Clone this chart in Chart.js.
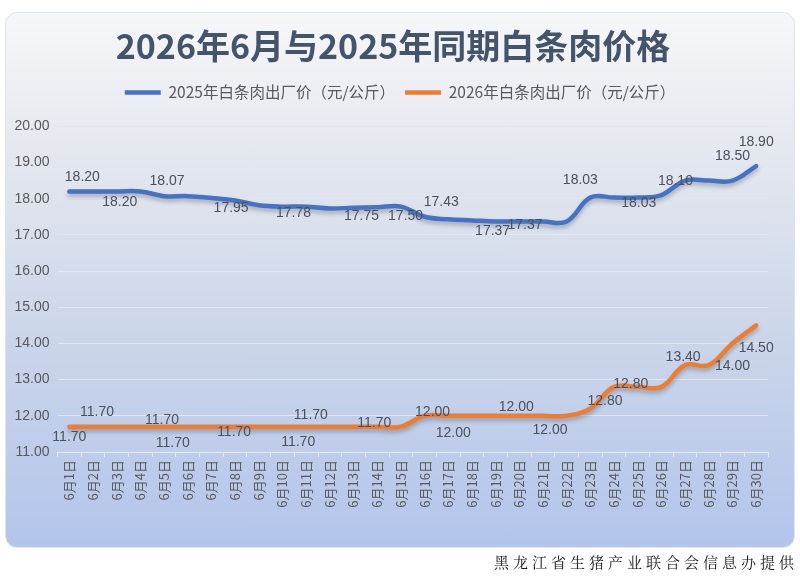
<!DOCTYPE html>
<html>
<head>
<meta charset="utf-8">
<script src="https://cdn.jsdelivr.net/npm/chart.js@4.4.0/dist/chart.umd.min.js"></script>
<style>
  html, body { margin: 0; padding: 0; background: #fff; }
  body { width: 800px; height: 576px; position: relative; overflow: hidden; }
  #card {
    position: absolute; left: 5px; top: 12px; width: 788px; height: 534px;
    border: 1px solid #dfe3ea; border-radius: 12px;
    background: linear-gradient(to bottom, #f6f7f9 0%, #e5e8ef 25%, #ccd6ea 60%, #b3c5eb 100%);
  }
  #chart { position: absolute; left: 0; top: 0; }
  #source {
    position: absolute; right: 2px; top: 551px;
    font: 15px "Noto Serif CJK SC", "Noto Sans CJK SC", serif;
    letter-spacing: 4px; color: #1a1a1a;
  }
</style>
</head>
<body>
<div id="card"></div>
<canvas id="chart" width="800" height="576"></canvas>
<div id="source">黑龙江省生猪产业联合会信息办提供</div>
<script>
// categories: 6月1日 .. 6月30日
const days = [
  "6月1日", "6月2日", "6月3日", "6月4日", "6月5日", "6月6日", "6月7日", "6月8日", "6月9日", "6月10日",
  "6月11日", "6月12日", "6月13日", "6月14日", "6月15日", "6月16日", "6月17日", "6月18日", "6月19日", "6月20日",
  "6月21日", "6月22日", "6月23日", "6月24日", "6月25日", "6月26日", "6月27日", "6月28日", "6月29日", "6月30日"
];

// 元/公斤
const price2025 = [
  18.20, 18.20, 18.20, 18.20, 18.07, 18.07, 18.02, 17.95, 17.82, 17.78,
  17.78, 17.73, 17.75, 17.76, 17.78, 17.50, 17.43, 17.40, 17.37, 17.37,
  17.37, 17.37, 18.03, 18.03, 18.03, 18.10, 18.50, 18.50, 18.50, 18.90
];
const price2026 = [
  11.70, 11.70, 11.70, 11.70, 11.70, 11.70, 11.70, 11.70, 11.70, 11.70,
  11.70, 11.70, 11.70, 11.70, 11.70, 12.00, 12.00, 12.00, 12.00, 12.00,
  12.00, 12.00, 12.20, 12.80, 12.80, 12.80, 13.40, 13.40, 14.00, 14.50
];

const seriesNames = ["2025年白条肉出厂价（元/公斤）", "2026年白条肉出厂价（元/公斤）"];
const yMin = 11, yMax = 20, yStep = 1;

// which points carry a value label
const labelIdx2025 = [0, 2, 4, 7, 9, 12, 15, 16, 18, 20, 22, 24, 25, 28, 29];
const labelIdx2026 = [0, 1, 4, 5, 7, 10, 11, 13, 15, 16, 19, 20, 23, 24, 26, 28, 29];

// label nudges (px) relative to the point, same order as above
const labelOff2025 = [[13, -14], [3, 11], [3, -15], [-4, 8], [11, 7], [8, 8], [-19, -1], [-7, -17],
  [-3, 10], [-18, 4], [-10, -17], [1, 6], [14, -14], [0, -24], [0, -24]];
const labelOff2026 = [[0, 10], [4, -15], [-2, -7], [-15, 16], [-1, 5], [-8, 15], [-19, -12], [-3, -4],
  [8, -4], [5, 17], [-3, -9], [7, 14], [-9, 14], [-7, -3], [-2, -8], [0, 23], [0, 23]];

const textColor = "#595959";
const gridColor = "#e2e6ee";
const numFont = '"Liberation Sans", "Noto Sans CJK SC", sans-serif';
const cjkFont = '"Noto Sans CJK SC", "Liberation Sans", sans-serif';

// soft shadow under the lines
const lineShadow = {
  id: "lineShadow",
  beforeDatasetDraw(chart) {
    const ctx = chart.ctx;
    ctx.save();
    ctx.shadowColor = "rgba(0, 0, 0, 0.25)";
    ctx.shadowBlur = 4;
    ctx.shadowOffsetY = 3;
  },
  afterDatasetDraw(chart) {
    chart.ctx.restore();
  }
};

// value labels next to the chosen points
const valueLabels = {
  id: "valueLabels",
  afterDatasetsDraw(chart) {
    const ctx = chart.ctx;
    const specs = [[labelIdx2025, labelOff2025], [labelIdx2026, labelOff2026]];
    ctx.save();
    ctx.font = "14px " + numFont;
    ctx.fillStyle = "#4a505c";
    ctx.textAlign = "center";
    ctx.textBaseline = "middle";
    specs.forEach(([idx, off], d) => {
      const meta = chart.getDatasetMeta(d);
      const values = chart.data.datasets[d].data;
      idx.forEach((i, k) => {
        const pt = meta.data[i];
        ctx.fillText(values[i].toFixed(2), pt.x + off[k][0], pt.y + off[k][1]);
      });
    });
    ctx.restore();
  }
};

// extra room under the legend, and centre title/legend on the card rather than the plot
const headerTweak = {
  id: "headerTweak",
  beforeLayout(chart) {
    const lg = chart.legend;
    if (lg && !lg._gapPatched) {
      const fit = lg.fit;
      lg.fit = function () { fit.call(this); this.height += 16; };
      lg._gapPatched = true;
    }
  },
  afterLayout(chart) {
    if (chart.titleBlock) { chart.titleBlock.left += 9; chart.titleBlock.right += 9; }
    if (chart.legend) { chart.legend.left += 16; chart.legend.right += 16; }
  }
};

new Chart(document.getElementById("chart"), {
  type: "line",
  data: {
    labels: days,
    datasets: [
      {
        label: seriesNames[0],
        data: price2025,
        borderColor: "#4472c4",
        backgroundColor: "#4472c4",
        borderWidth: 4.5,
        borderCapStyle: "round",
        pointRadius: 0,
        tension: 0.4
      },
      {
        label: seriesNames[1],
        data: price2026,
        borderColor: "#ed7d31",
        backgroundColor: "#ed7d31",
        borderWidth: 4.5,
        borderCapStyle: "round",
        pointRadius: 0,
        tension: 0.4
      }
    ]
  },
  options: {
    responsive: false,
    animation: false,
    layout: { padding: { left: 0, right: 32, top: 0, bottom: 0 } },
    plugins: {
      title: {
        display: true,
        text: "2026年6月与2025年同期白条肉价格",
        color: "#44546a",
        font: { family: cjkFont, size: 34, weight: "bold" },
        padding: { top: 26, bottom: 8 }
      },
      legend: {
        position: "top",
        labels: {
          color: textColor,
          font: { family: cjkFont, size: 15.5 },
          usePointStyle: true,
          pointStyle: "line",
          pointStyleWidth: 36,
          padding: 10
        }
      },
      tooltip: { enabled: false }
    },
    scales: {
      x: {
        offset: true,
        afterFit: s => { s.height = 124; },
        grid: { offset: true, drawOnChartArea: false, drawTicks: true, tickLength: 5, color: "#e6eaf1" },
        border: { color: "#e6eaf1" },
        ticks: {
          autoSkip: false, minRotation: 90, maxRotation: 90, padding: 3,
          color: textColor, font: { family: cjkFont, size: 13 }
        }
      },
      y: {
        min: yMin, max: yMax,
        afterFit: s => { s.width = 57.5; },
        grid: { color: gridColor, drawTicks: false },
        border: { display: false },
        ticks: {
          stepSize: yStep, padding: 8,
          color: textColor, font: { family: numFont, size: 14 },
          callback: v => v.toFixed(2)
        }
      }
    }
  },
  plugins: [lineShadow, valueLabels, headerTweak]
});
</script>
</body>
</html>
